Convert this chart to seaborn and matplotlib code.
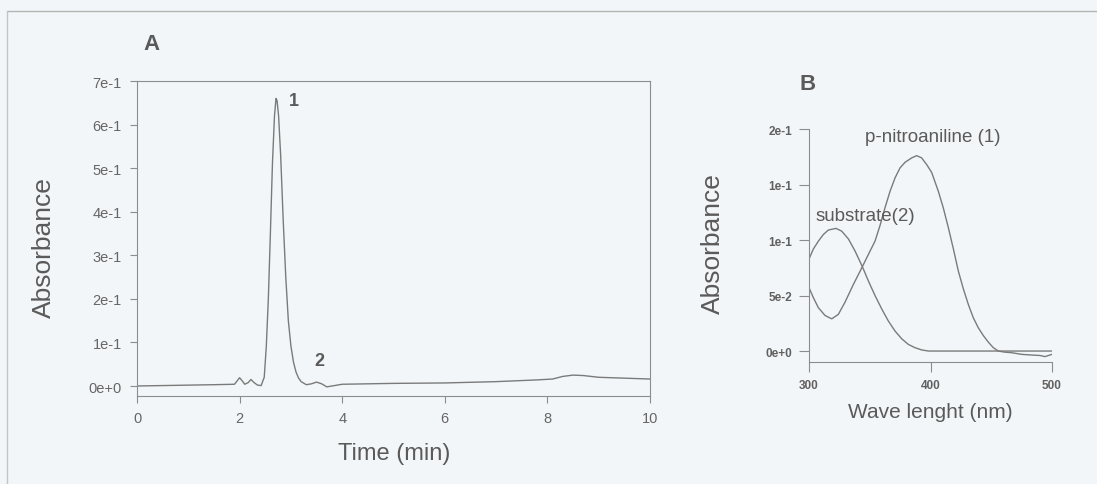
import matplotlib
matplotlib.use("Agg")
import matplotlib.pyplot as plt
from matplotlib.lines import Line2D
import seaborn as sns
import pandas as pd

# Panel A: HPLC chromatogram (absorbance vs retention time)
time_min = [0.0, 0.5, 1.0, 1.5, 1.9, 2.0, 2.05, 2.1, 2.17, 2.22, 2.28, 2.35, 2.42,
            2.48, 2.52, 2.56, 2.60, 2.64, 2.68, 2.71, 2.73, 2.76, 2.80, 2.85, 2.90,
            2.95, 3.0, 3.05, 3.1, 3.15, 3.2, 3.3, 3.4, 3.5, 3.6, 3.7, 3.8, 4.0, 5.0,
            6.0, 7.0, 7.8, 8.1, 8.3, 8.5, 8.7, 9.0, 9.5, 10.0]
absorbance_a = [0.000, 0.001, 0.002, 0.003, 0.004, 0.019, 0.012, 0.004, 0.008, 0.015,
                0.008, 0.002, 0.001, 0.020, 0.090, 0.200, 0.350, 0.510, 0.620, 0.660,
                0.655, 0.620, 0.530, 0.380, 0.250, 0.150, 0.092, 0.055, 0.032, 0.018,
                0.010, 0.003, 0.005, 0.009, 0.005, -0.002, 0.000, 0.004, 0.006, 0.007,
                0.010, 0.014, 0.016, 0.022, 0.025, 0.024, 0.020, 0.018, 0.016]

# Panel B: UV-Vis spectra
wl_pna = [300, 303.6, 307.7, 313.2, 318.7, 324.1, 329.6, 336.5, 343.9, 350.2, 354.3,
          358.4, 362.5, 366.7, 370.8, 374.9, 379.0, 384.5, 388.6, 392.7, 396.8, 400.9,
          406.4, 410.5, 414.7, 418.8, 422.9, 427.0, 431.1, 435.2, 439.3, 443.4, 447.6,
          451.7, 455.8, 461, 466.8, 475, 483.2, 490, 494.2, 500]
abs_pna = [0.057, 0.048, 0.039, 0.032, 0.029, 0.033, 0.044, 0.060, 0.076, 0.090, 0.099,
           0.113, 0.129, 0.144, 0.156, 0.165, 0.170, 0.174, 0.176, 0.174, 0.168, 0.161,
           0.144, 0.129, 0.111, 0.092, 0.072, 0.056, 0.042, 0.030, 0.021, 0.014, 0.008,
           0.003, 0.000, -0.001, -0.0015, -0.003, -0.0036, -0.004, -0.005, -0.003]
wl_sub = [300, 303.6, 307.7, 311.8, 315.9, 322.2, 326.9, 332.4, 337.9, 343.9, 348.9,
          354.3, 359.8, 365.3, 370.8, 376.3, 381.7, 387.2, 392.7, 398.2, 450, 500]
abs_sub = [0.083, 0.092, 0.099, 0.105, 0.109, 0.1105, 0.108, 0.101, 0.090, 0.076,
           0.063, 0.050, 0.038, 0.027, 0.018, 0.011, 0.006, 0.003, 0.001, 0.000,
           0.000, 0.000]

ticks_a_x = [0, 2, 4, 6, 8, 10]
ticks_a_y = [0.0, 0.1, 0.2, 0.3, 0.4, 0.5, 0.6, 0.7]
labels_a_y = ["0e+0", "1e-1", "2e-1", "3e-1", "4e-1", "5e-1", "6e-1", "7e-1"]
ticks_b_x = [300, 400, 500]
ticks_b_y = [0.0, 0.05, 0.10, 0.15, 0.20]
labels_b_y = ["0e+0", "5e-2", "1e-1", "1e-1", "2e-1"]

sns.set_style("ticks")
plt.rcParams["font.family"] = ["Liberation Sans", "DejaVu Sans"]

bg = "#f3f6f8"
line_c = "#7a7a7a"
axis_c = "#8c8c8c"
text_c = "#5a5a5a"

fig = plt.figure(figsize=(10.97, 4.85), dpi=100, facecolor=bg)

# ---- Panel A ----
axA = fig.add_axes([0.1249, 0.1814, 0.4676, 0.6495], facecolor=bg)
df_a = pd.DataFrame({"t": time_min, "a": absorbance_a})
sns.lineplot(data=df_a, x="t", y="a", ax=axA, color=line_c, lw=1.0, estimator=None)
axA.set_xlim(0, 10)
axA.set_ylim(-0.023, 0.7)
axA.set_xticks(ticks_a_x)
axA.set_xticklabels([str(v) for v in ticks_a_x])
axA.set_yticks(ticks_a_y)
axA.set_yticklabels(labels_a_y)
for s in axA.spines.values():
    s.set_color(axis_c)
    s.set_linewidth(0.8)
axA.tick_params(axis="both", length=5, width=0.8, color=axis_c, labelsize=10.5,
                labelcolor="#666666", pad=6)
axA.set_xlabel("Time (min)", fontsize=17, color=text_c)
axA.set_ylabel("Absorbance", fontsize=19, color=text_c)
axA.xaxis.set_label_coords(0.501, -0.146)
axA.yaxis.set_label_coords(-0.158, 0.473)
axA.text(3.06, 0.656, "1", fontsize=13, fontweight="bold", color=text_c,
         ha="center", va="center")
axA.text(3.55, 0.058, "2", fontsize=13, fontweight="bold", color=text_c,
         ha="center", va="center")

# ---- Panel B ----
axB = fig.add_axes([0.7375, 0.2515, 0.2215, 0.4804], facecolor=bg)
sns.lineplot(x=wl_pna, y=abs_pna, ax=axB, color=line_c, lw=1.0, estimator=None)
sns.lineplot(x=wl_sub, y=abs_sub, ax=axB, color=line_c, lw=1.0, estimator=None)
axB.set_xlim(300, 500)
axB.set_ylim(-0.0099, 0.2)
axB.set_xticks(ticks_b_x)
axB.set_xticklabels([str(v) for v in ticks_b_x])
axB.set_yticks(ticks_b_y)
axB.set_yticklabels(labels_b_y)
axB.spines["top"].set_visible(False)
axB.spines["right"].set_visible(False)
for k in ("left", "bottom"):
    axB.spines[k].set_color(axis_c)
    axB.spines[k].set_linewidth(0.8)
axB.tick_params(axis="both", length=7, width=0.8, color=axis_c, labelsize=8.5,
                labelcolor="#606060", pad=5)
for lab in axB.get_xticklabels() + axB.get_yticklabels():
    lab.set_fontweight("bold")
axB.set_xlabel("Wave lenght (nm)", fontsize=15, color=text_c)
axB.set_ylabel("Absorbance", fontsize=19, color=text_c)
axB.xaxis.set_label_coords(0.498, -0.172)
axB.yaxis.set_label_coords(-0.346, 0.511)
axB.text(402, 0.193, "p-nitroaniline (1)", fontsize=13.5, color=text_c,
         ha="center", va="center")
axB.text(346, 0.1225, "substrate(2)", fontsize=13.5, color=text_c,
         ha="center", va="center")

# Panel letters
fig.text(151 / 1097, 1 - 45 / 485, "A", fontsize=16, fontweight="bold", color=text_c,
         ha="center", va="center")
fig.text(808 / 1097, 1 - 85 / 485, "B", fontsize=16, fontweight="bold", color=text_c,
         ha="center", va="center")

# Outer frame (top and left edges)
fy = 1 - 12 / 485
fx = 7 / 1097
fig.add_artist(Line2D([fx, 1.0], [fy, fy], transform=fig.transFigure,
                      color="#b4b4b4", lw=1.0))
fig.add_artist(Line2D([fx, fx], [0.0, fy], transform=fig.transFigure,
                      color="#c4c4c4", lw=1.0))

fig.savefig("out.png", dpi=100, facecolor=bg)
